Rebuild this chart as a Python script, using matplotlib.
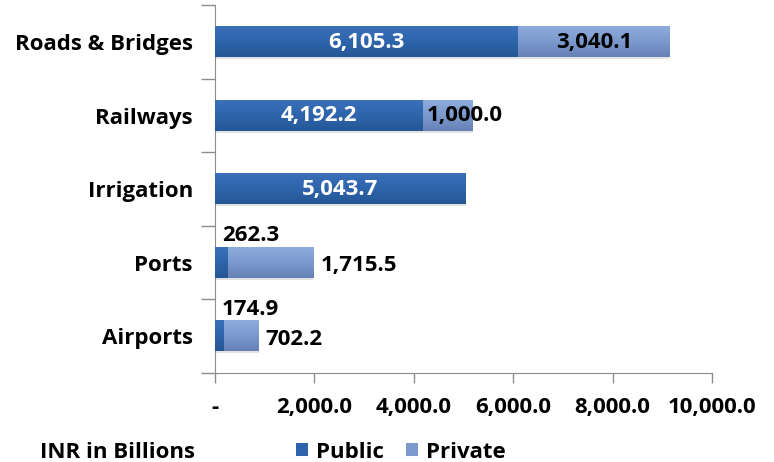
import numpy as np
import matplotlib.pyplot as plt
from matplotlib.colors import LinearSegmentedColormap
from matplotlib.patches import Patch
from matplotlib.ticker import FuncFormatter

sectors = ['Roads & Bridges', 'Railways', 'Irrigation', 'Ports', 'Airports']
public = [6105.3, 4192.2, 5043.7, 262.3, 174.9]
private = [3040.1, 1000.0, 0.0, 1715.5, 702.2]

plt.rcParams['font.family'] = ['Open Sans', 'DejaVu Sans']
plt.rcParams['font.weight'] = 'bold'

pub_cmap = LinearSegmentedColormap.from_list('pub', ['#3b70b9', '#2e64ab', '#255795'])
prv_cmap = LinearSegmentedColormap.from_list('prv', ['#8eabdd', '#7c99cd', '#6681b5'])

fig = plt.figure(figsize=(7.74, 4.62), dpi=100)
ax = fig.add_axes([0.2778, 0.1926, 0.642, 0.796])

y = np.arange(len(sectors))
h = 0.41
bars_pub = ax.barh(y, public, height=h, color='#2e64ab', zorder=2)
bars_prv = ax.barh(y, private, left=public, height=h, color='#7c99cd', zorder=2)

# vertical shading inside each bar, plus a faint shadow underneath
grad = np.linspace(0, 1, 64).reshape(-1, 1)
for bars, cmap in ((bars_pub, pub_cmap), (bars_prv, prv_cmap)):
    for b in bars:
        if b.get_width() <= 0:
            continue
        x0, y0 = b.get_x(), b.get_y()
        ax.imshow(grad, cmap=cmap, aspect='auto', zorder=3, origin='lower',
                  extent=(x0, x0 + b.get_width(), y0, y0 + b.get_height()))
        ax.fill_between([x0, x0 + b.get_width()], y0 + b.get_height(),
                        y0 + b.get_height() + 0.025, color='#e2e2e2', lw=0, zorder=1)

ax.set_xlim(0, 10000)
ax.set_ylim(len(sectors) - 0.5, -0.5)

fs = 16
for i, (pu, pr) in enumerate(zip(public, private)):
    if pu > 1000:
        ax.text(pu / 2, i, f'{pu:,.1f}', color='white', ha='center', va='center',
                fontsize=fs, fontweight='bold', zorder=5)
    else:
        ax.text(140, i - 0.37, f'{pu:,.1f}', color='black', ha='left', va='center',
                fontsize=fs, fontweight='bold', zorder=5)
    if pr <= 0:
        continue
    if pu > 1000:
        xc = pu + pr / 2 + (340 if pr < 1500 else 0)
        ax.text(xc, i, f'{pr:,.1f}', color='black', ha='center', va='center',
                fontsize=fs, fontweight='bold', zorder=5)
    else:
        ax.text(pu + pr + 140, i + 0.04, f'{pr:,.1f}', color='black', ha='left', va='center',
                fontsize=fs, fontweight='bold', zorder=5)

ax.set_yticks(np.arange(-0.5, len(sectors), 1), minor=False)
ax.set_yticklabels([])
ax.set_yticks(y, minor=True)
ax.set_yticklabels(sectors, minor=True, fontsize=fs, fontweight='bold')
ax.tick_params(axis='y', which='minor', length=0, pad=16)
ax.tick_params(axis='y', which='major', length=10, color='#8c8c8c', width=1)

ax.set_xticks(np.arange(0, 10001, 2000))
ax.xaxis.set_major_formatter(FuncFormatter(lambda v, p: '-' if v == 0 else f'{v:,.1f}'))
ax.tick_params(axis='x', length=7, color='#8c8c8c', width=1, pad=10, labelsize=fs)
for lab in ax.get_xticklabels():
    lab.set_fontweight('bold')

for s in ('top', 'right'):
    ax.spines[s].set_visible(False)
for s in ('left', 'bottom'):
    ax.spines[s].set_color('#8c8c8c')

fig.text(40 / 774, 1 - 452 / 462, 'INR in Billions', fontsize=fs, fontweight='bold',
         ha='left', va='center')
handles = [Patch(facecolor='#2e64ab', label='Public'),
           Patch(facecolor='#7c99cd', label='Private')]
fig.legend(handles=handles, loc='center left', bbox_to_anchor=(296 / 774, 1 - 452 / 462),
           ncol=2, frameon=False, fontsize=fs, handlelength=0.55, handleheight=0.55,
           handletextpad=0.35, columnspacing=1.0, borderaxespad=0, borderpad=0)

fig.savefig('out.png', dpi=100)
